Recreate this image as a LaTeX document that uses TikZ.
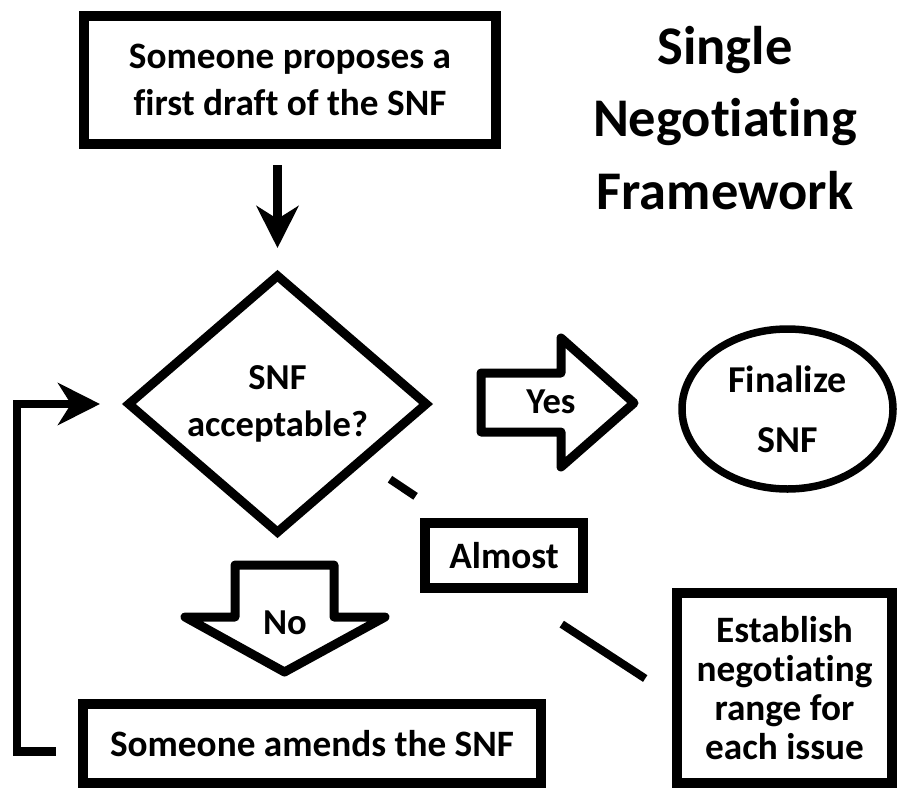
\documentclass[tikz,border=0pt]{standalone}
\usepackage{fontspec}
\setmainfont{Carlito}[Ligatures={NoCommon,NoRare,NoDiscretionary}]
\usetikzlibrary{arrows.meta,shapes.geometric}

\begin{document}
\begin{tikzpicture}[
    box/.style={draw, line width=0.1cm, align=center, inner sep=0pt,
        font=\bfseries\fontsize{10.6}{13.4}\selectfont},
    decision/.style={draw, diamond, aspect=1.16, line width=0.09cm, align=center, inner sep=0pt,
        font=\bfseries\fontsize{10.4}{13.4}\selectfont},
    terminal/.style={draw, ellipse, line width=0.075cm, align=center, inner sep=0pt,
        font=\bfseries\fontsize{10.8}{17}\selectfont},
    arrowtext/.style={font=\bfseries\fontsize{10.4}{11}\selectfont, inner sep=0pt},
    blockarrow/.style={line width=0.09cm, line join=round},
    flowline/.style={line width=0.085cm, -{Stealth[length=0.42cm, width=0.42cm, inset=0.13cm]}},
    linkline/.style={line width=0.08cm},
    ]

\useasboundingbox (0,0) rectangle (8.98,7.90);

% title
\node[align=center, font=\bfseries\fontsize{15.5}{20.6}\selectfont] (title) at (7.25,6.72)
    {Single\\Negotiating\\Framework};

% boxes
\node[box, minimum width=4.12cm, minimum height=1.28cm] (propose) at (2.90,7.10)
    {Someone proposes a\\first draft of the SNF};
\node[decision, minimum width=3.01cm, minimum height=2.60cm] (accept) at (2.775,3.86)
    {SNF\\acceptable?};
\node[terminal, minimum width=2.11cm, minimum height=1.60cm] (finalize) at (7.875,3.81)
    {Finalize\\SNF};
\node[box, minimum width=1.58cm, minimum height=0.65cm] (almost) at (5.04,2.345) {Almost};
\node[box, minimum width=2.15cm, minimum height=1.90cm, font=\bfseries\fontsize{10.6}{11.1}\selectfont]
    (establish) at (7.845,1.02) {Establish\\negotiating\\range for\\each issue};
\node[box, minimum width=4.58cm, minimum height=0.79cm] (amend) at (3.12,0.465)
    {Someone amends the SNF};

% block arrows
\draw[blockarrow] (4.81,4.17) -- (5.61,4.17) -- (5.61,4.52) -- (6.34,3.87)
    -- (5.61,3.23) -- (5.61,3.58) -- (4.81,3.58) -- cycle;
\node[arrowtext] (yes) at (5.51,3.88) {Yes};

\draw[blockarrow] (2.35,2.25) -- (3.34,2.25) -- (3.34,1.73) -- (3.85,1.73)
    -- (2.845,1.18) -- (1.85,1.73) -- (2.35,1.73) -- cycle;
\node[arrowtext] (no) at (2.85,1.67) {No};

% connectors
\draw[flowline, shorten <=0.16cm, shorten >=0.215cm] (accept.north |- propose.south) -- (accept.north);

\coordinate (turn) at (0.17,2);
\draw[flowline, shorten <=0.22cm, shorten >=0.225cm] ([yshift=-0.08cm]amend.west) -| (turn) |- (accept.west);

\draw[linkline, shorten <=0.3cm, shorten >=0.39cm] (accept) -- (almost);
\draw[linkline, shorten <=0.57cm, shorten >=0.32cm] ([xshift=0.1cm]almost.south) -- ([yshift=-0.08cm]establish.west);

\end{tikzpicture}
\end{document}
